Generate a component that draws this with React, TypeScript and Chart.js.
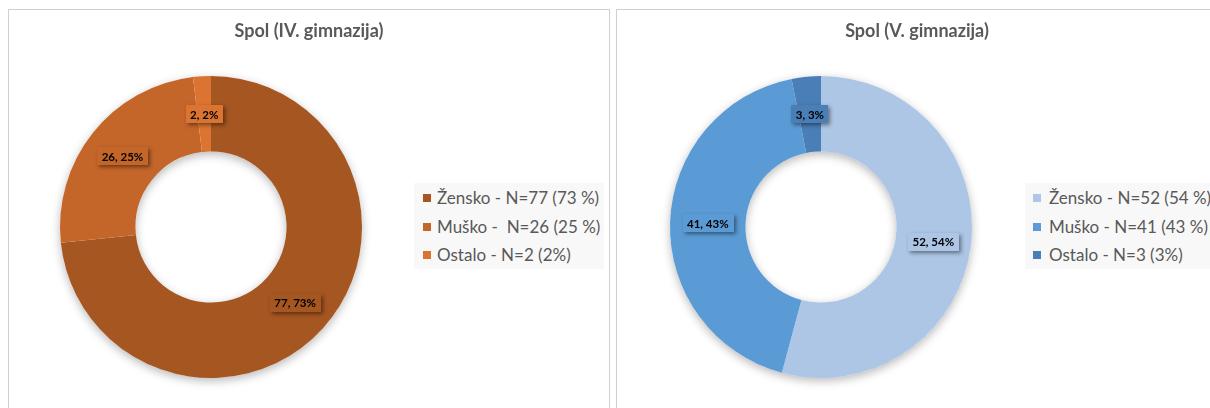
import React, { useEffect, useRef } from "react";
import { Chart, registerables } from "chart.js";

Chart.register(...registerables);

const leftTitle = "Spol (IV. gimnazija)";
const rightTitle = "Spol (V. gimnazija)";
const leftLabels = ["Žensko - N=77 (73 %)", "Muško -  N=26 (25 %)", "Ostalo - N=2 (2%)"];
const rightLabels = ["Žensko - N=52 (54 %)", "Muško - N=41 (43 %)", "Ostalo - N=3 (3%)"];
const leftValues = [77, 26, 2];
const rightValues = [52, 41, 3];
const leftColors = ["#A65621", "#C4652A", "#DC7431"];
const rightColors = ["#ADC6E6", "#5B9BD5", "#4A7EB6"];

const FONT = "Lato, 'Open Sans', sans-serif";

const shadowAndLabels = {
  id: "shadowAndLabels",
  beforeDatasetsDraw(chart: any) {
    const meta = chart.getDatasetMeta(0);
    const a = meta.data[0];
    if (!a) return;
    const { x, y, outerRadius, innerRadius } = a.getProps(["x", "y", "outerRadius", "innerRadius"], true);
    const ctx = chart.ctx;
    ctx.save();
    ctx.shadowColor = "rgba(0,0,0,0.28)";
    ctx.shadowBlur = 10;
    ctx.shadowOffsetX = 0;
    ctx.shadowOffsetY = 3;
    ctx.fillStyle = "#ffffff";
    ctx.beginPath();
    ctx.arc(x, y, outerRadius, 0, Math.PI * 2, false);
    ctx.arc(x, y, innerRadius, 0, Math.PI * 2, true);
    ctx.closePath();
    ctx.fill();
    ctx.restore();
  },
  afterDatasetsDraw(chart: any) {
    const meta = chart.getDatasetMeta(0);
    const ds = chart.data.datasets[0];
    const values: number[] = ds.data as number[];
    const total = values.reduce((s, v) => s + v, 0);
    const ctx = chart.ctx;
    ctx.save();
    ctx.font = `bold 11.5px ${FONT}`;
    ctx.textAlign = "center";
    ctx.textBaseline = "middle";
    meta.data.forEach((arc: any, i: number) => {
      const p = arc.getCenterPoint();
      const text = `${values[i]}, ${Math.round((values[i] / total) * 100)}%`;
      const w = ctx.measureText(text).width + 9;
      const h = 18;
      ctx.save();
      ctx.shadowColor = "rgba(0,0,0,0.45)";
      ctx.shadowBlur = 4;
      ctx.shadowOffsetX = 2;
      ctx.shadowOffsetY = 2;
      ctx.fillStyle = (ds.backgroundColor as string[])[i];
      ctx.fillRect(Math.round(p.x - w / 2), Math.round(p.y - h / 2), Math.round(w), h);
      ctx.restore();
      ctx.fillStyle = "#000000";
      ctx.fillText(text, p.x, p.y + 1);
    });
    ctx.restore();
  },
};

type PanelProps = {
  left: number;
  title: string;
  titleCenter: number;
  labels: string[];
  values: number[];
  colors: string[];
  cx: number;
  cy: number;
  legendLeft: number;
  legendWidth: number;
  swatchX: number;
  textX: number;
};

const W = 600;
const H = 400;
const R = 151;

function Panel(props: PanelProps) {
  const ref = useRef<HTMLCanvasElement | null>(null);
  useEffect(() => {
    if (!ref.current) return;
    const chart = new Chart(ref.current, {
      type: "doughnut",
      data: {
        labels: props.labels,
        datasets: [
          {
            data: props.values,
            backgroundColor: props.colors,
            borderWidth: 0,
          },
        ],
      },
      options: {
        responsive: false,
        animation: false,
        devicePixelRatio: 1,
        cutout: "50%",
        layout: {
          padding: {
            left: props.cx - R,
            top: props.cy - R,
            right: W - (props.cx + R),
            bottom: H - (props.cy + R),
          },
        },
        plugins: {
          legend: { display: false },
          title: { display: false },
          tooltip: { enabled: false },
        },
      },
      plugins: [shadowAndLabels],
    });
    return () => chart.destroy();
  }, []);

  const rowY = [188, 217, 245];
  return (
    <div
      style={{
        position: "absolute",
        left: props.left,
        top: 9,
        width: 602,
        height: 420,
        border: "1px solid #CFCFCF",
        background: "#fff",
        boxSizing: "border-box",
        overflow: "hidden",
      }}
    >
      <canvas ref={ref} width={W} height={H} style={{ position: "absolute", left: 0, top: 0, width: W, height: H }} />
      <div
        style={{
          position: "absolute",
          left: props.titleCenter - 150,
          width: 300,
          top: 9,
          textAlign: "center",
          fontFamily: FONT,
          fontWeight: 700,
          fontSize: 18,
          color: "#595959",
          lineHeight: "22px",
          whiteSpace: "nowrap",
        }}
      >
        {props.title}
      </div>
      <div
        style={{
          position: "absolute",
          left: props.legendLeft,
          top: 173,
          width: props.legendWidth,
          height: 86,
          background: "#F8F8F8",
        }}
      />
      {props.labels.map((l, i) => (
        <React.Fragment key={i}>
          <div
            style={{
              position: "absolute",
              left: props.swatchX,
              top: rowY[i] - 4,
              width: 8,
              height: 8,
              background: props.colors[i],
            }}
          />
          <div
            style={{
              position: "absolute",
              left: props.textX,
              top: rowY[i] - 11,
              height: 22,
              lineHeight: "22px",
              fontFamily: FONT,
              fontSize: 17,
              color: "#595959",
              whiteSpace: "pre",
            }}
          >
            {l}
          </div>
        </React.Fragment>
      ))}
    </div>
  );
}

export default function App() {
  return (
    <div
      style={{
        position: "fixed",
        left: 0,
        top: 0,
        width: 1210,
        height: 408,
        overflow: "hidden",
        background: "#fff",
      }}
    >
      <Panel
        left={8}
        title={leftTitle}
        titleCenter={300}
        labels={leftLabels}
        values={leftValues}
        colors={leftColors}
        cx={202}
        cy={217}
        legendLeft={405}
        legendWidth={190}
        swatchX={414}
        textX={428}
      />
      <Panel
        left={616}
        title={rightTitle}
        titleCenter={300}
        labels={rightLabels}
        values={rightValues}
        colors={rightColors}
        cx={204}
        cy={217}
        legendLeft={408}
        legendWidth={190}
        swatchX={416}
        textX={432}
      />
    </div>
  );
}
